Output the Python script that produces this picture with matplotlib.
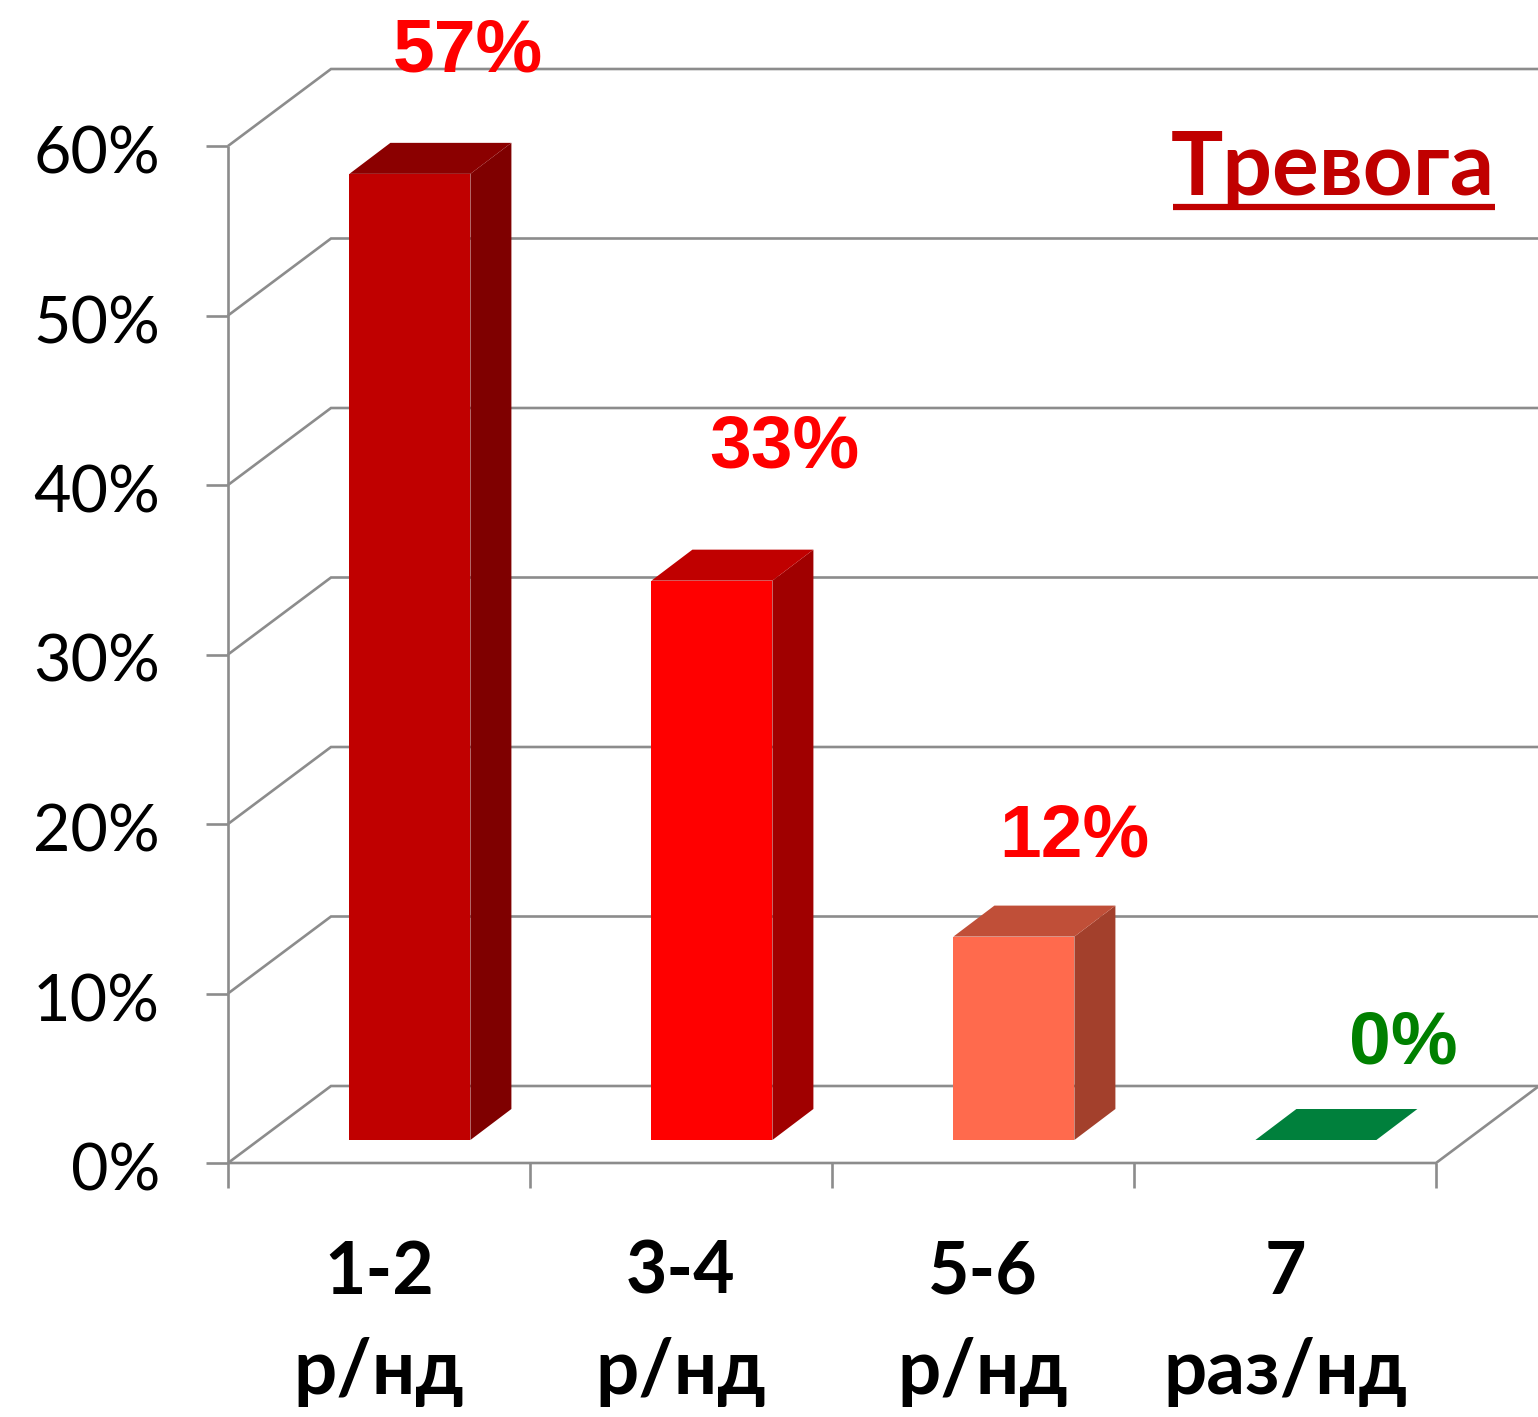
import matplotlib
matplotlib.use("Agg")
import matplotlib.pyplot as plt
from matplotlib.lines import Line2D
from matplotlib.patches import Polygon

line1_labels = ["1-2", "3-4", "5-6", "7"]
line2_labels = ["р/нд", "р/нд", "р/нд", "раз/нд"]
values = [57, 33, 12, 0]
value_labels = ["57%", "33%", "12%", "0%"]
label_colors = ["#ff0000", "#ff0000", "#ff0000", "#008000"]
front_colors = ["#c00000", "#ff0000", "#ff6a4d", "#00803c"]
side_colors = ["#7f0000", "#a00000", "#a3402c", "#005a2a"]
top_colors = ["#8b0000", "#c00000", "#c04f38", "#00803c"]
y_ticks = [0, 10, 20, 30, 40, 50, 60]
title = "Тревога"

W, H = 1538, 1417
plt.rcParams["font.family"] = ["Lato", "Open Sans", "DejaVu Sans"]

fig = plt.figure(figsize=(W / 100, H / 100), dpi=100)
ax = fig.add_axes([228 / W, (H - 1163) / H, 1208 / W, 1017 / H])
n = len(values)
ax.set_xlim(0, n)
ax.set_ylim(0, 60)
ax.axis("off")

GRID = "#8c8c8c"
LW = 1.9
px_x = n / 1208
px_y = 60 / 1017
wall_dx, wall_dy = 103 * px_x, 77 * px_y
bar_dx, bar_dy = 41 * px_x, 31 * px_y
base = 23 * px_y
bar_w = 121 * px_x
bar_gap = 0.402


def rule(xs, ys):
    ax.plot(xs, ys, color=GRID, lw=LW, clip_on=False, zorder=1, solid_joinstyle="miter",
            solid_capstyle="butt")


# back wall gridlines, left-wall diagonals, left ticks
for t in y_ticks:
    rule([0, wall_dx, n + wall_dx], [t, t + wall_dy, t + wall_dy])
    rule([-22 * px_x, 0], [t, t])
# front axes
rule([0, 0], [0, 60])
rule([0, n, n + wall_dx], [0, 0, wall_dy])
for i in range(n + 1):
    rule([i, i], [0, -25 * px_y])

# bars
for i, (v, f, s, tp) in enumerate(zip(values, front_colors, side_colors, top_colors)):
    x0 = i + bar_gap
    x1 = x0 + bar_w
    y0, y1 = base, base + v
    ax.add_patch(Polygon([(x0, y0), (x1, y0), (x1, y1), (x0, y1)], fc=f, ec="none", zorder=3,
                         clip_on=False))
    ax.add_patch(Polygon([(x1, y0), (x1 + bar_dx, y0 + bar_dy), (x1 + bar_dx, y1 + bar_dy), (x1, y1)],
                         fc=s, ec="none", zorder=3, clip_on=False))
    ax.add_patch(Polygon([(x0, y1), (x1, y1), (x1 + bar_dx, y1 + bar_dy), (x0 + bar_dx, y1 + bar_dy)],
                         fc=tp, ec="none", zorder=4, clip_on=False))

# value labels, offset in pixels from the centre of each bar's top edge
label_offsets = [(58, 122), (72, 133), (60, 100), (87, 96)]
for i, (v, lab, c, off) in enumerate(zip(values, value_labels, label_colors, label_offsets)):
    ax.annotate(lab, xy=(i + bar_gap + bar_w / 2, base + v), xytext=off, textcoords="offset pixels",
                ha="center", va="center", fontsize=54, fontweight="bold", color=c,
                family="Liberation Sans", zorder=6, annotation_clip=False)

# y tick labels
for t in y_ticks:
    ax.annotate(f"{t}%", xy=(0, t), xytext=(-68, -9), textcoords="offset pixels",
                ha="right", va="center", fontsize=46.5, color="black", annotation_clip=False)

# category labels
for i, (l1, l2) in enumerate(zip(line1_labels, line2_labels)):
    ax.annotate(l1, xy=(i + 0.5, 0), xytext=(0, -110), textcoords="offset pixels", ha="center",
                va="center", fontsize=51.5, fontweight="bold", color="black", annotation_clip=False)
    ax.annotate(l2, xy=(i + 0.5, 0), xytext=(0, -209), textcoords="offset pixels", ha="center",
                va="center", fontsize=55, fontweight="bold", color="black", annotation_clip=False)

# title
fig.text(1333 / W, 1 - 169 / H, title, ha="center", va="center", fontsize=63, fontweight="bold",
         color="#c00000")
fig.add_artist(Line2D([1173 / W, 1495 / W], [1 - 207 / H] * 2, color="#c00000", lw=4.5,
                      solid_capstyle="butt"))

fig.savefig("out.png", dpi=100)
